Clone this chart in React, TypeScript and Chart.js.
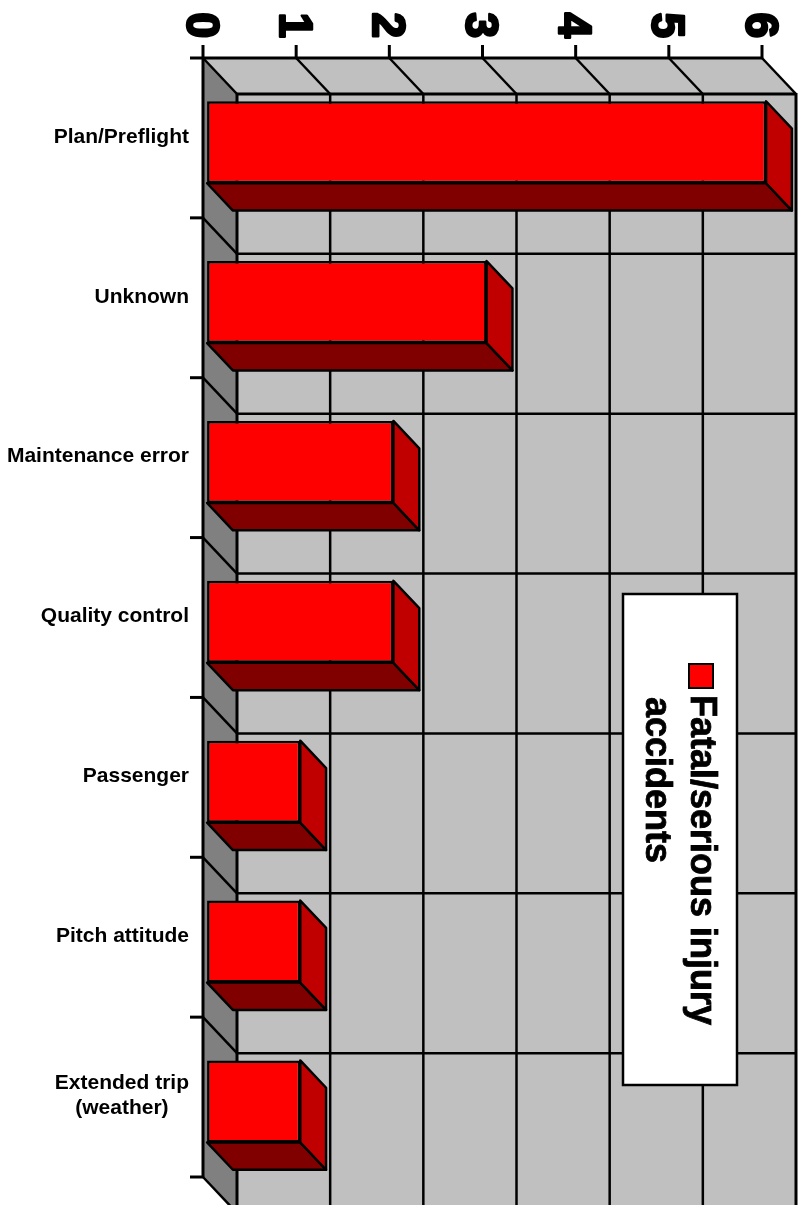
import React, { useEffect, useRef } from "react";
import { Chart, registerables } from "chart.js";

Chart.register(...registerables);

// ---- data ----
const categories: (string | string[])[] = [
  "Plan/Preflight",
  "Unknown",
  "Maintenance error",
  "Quality control",
  "Passenger",
  "Pitch attitude",
  ["Extended trip", "(weather)"],
];
const seriesName = "Fatal/serious injury accidents";
const seriesValues = [6, 3, 2, 2, 1, 1, 1];
const xTicks = [0, 1, 2, 3, 4, 5, 6];
const legendLines = ["Fatal/serious injury", "accidents"];

// ---- style ----
const DEPTH = { x: 34, y: 36 };
const BAR_FRONT = 0.12;
const BAR_BACK = 0.88;
const FONT = '"Liberation Sans", Arial, sans-serif';
const WALL = "#c0c0c0";
const SIDE_WALL = "#808080";

function line(ctx: CanvasRenderingContext2D, x1: number, y1: number, x2: number, y2: number, w: number) {
  ctx.lineWidth = w;
  ctx.beginPath();
  ctx.moveTo(x1, y1);
  ctx.lineTo(x2, y2);
  ctx.stroke();
}

function poly(ctx: CanvasRenderingContext2D, pts: number[][], fill: string, stroke?: number) {
  ctx.beginPath();
  ctx.moveTo(pts[0][0], pts[0][1]);
  for (let i = 1; i < pts.length; i++) ctx.lineTo(pts[i][0], pts[i][1]);
  ctx.closePath();
  ctx.fillStyle = fill;
  ctx.fill();
  if (stroke) {
    ctx.lineWidth = stroke;
    ctx.strokeStyle = "#000";
    ctx.stroke();
  }
}

const box3d = {
  id: "box3d",
  beforeDatasetsDraw(chart: any) {
    const { ctx, chartArea: a, scales } = chart;
    const xs = scales.x;
    const ys = scales.y;
    const n = categories.length;
    const band = (a.bottom - a.top) / n;
    const dx = DEPTH.x, dy = DEPTH.y;
    const H = chart.height;
    const x0 = xs.getPixelForValue(xTicks[0]);
    const x6 = xs.getPixelForValue(xTicks[xTicks.length - 1]);
    const bLeft = x0 + dx, bTop = a.top + dy, bRight = x6 + dx;

    ctx.save();
    ctx.lineCap = "butt";
    ctx.lineJoin = "miter";
    ctx.strokeStyle = "#000";

    // back wall
    ctx.fillStyle = WALL;
    ctx.fillRect(bLeft, bTop, bRight - bLeft, H - bTop + 60);
    for (let k = 1; k < xTicks.length - 1; k++) {
      const px = xs.getPixelForValue(xTicks[k]) + dx;
      line(ctx, px, bTop, px, H + 60, 2.5);
    }
    for (let i = 1; i <= n; i++) {
      const yb = a.top + i * band + dy;
      line(ctx, bLeft, yb, bRight, yb, 2.5);
    }

    // left wall
    poly(ctx, [[x0, a.top], [bLeft, bTop], [bLeft, a.bottom + dy], [x0, a.bottom]], SIDE_WALL);
    for (let i = 1; i <= n; i++) {
      const yb = a.top + i * band;
      line(ctx, x0, yb, x0 + dx, yb + dy, 2.5);
    }

    // top face
    poly(ctx, [[x0, a.top], [x6, a.top], [bRight, bTop], [bLeft, bTop]], WALL);
    for (let k = 0; k < xTicks.length; k++) {
      const px = xs.getPixelForValue(xTicks[k]);
      line(ctx, px, a.top, px + dx, bTop, 2.5);
    }

    // edges
    line(ctx, x0 - 13, a.top, x6, a.top, 3);
    line(ctx, bLeft, bTop, bRight, bTop, 3);
    line(ctx, x0, a.top - 13, x0, a.bottom, 3);
    line(ctx, bLeft, bTop, bLeft, H + 60, 3);
    line(ctx, bRight, bTop - 1, bRight, H + 60, 3);

    // ticks
    for (let k = 1; k < xTicks.length; k++) {
      const px = xs.getPixelForValue(xTicks[k]);
      line(ctx, px, a.top - 13, px, a.top, 3);
    }
    for (let i = 1; i <= n; i++) {
      const yb = a.top + i * band;
      line(ctx, x0 - 13, yb, x0, yb, 3);
    }

    // x tick labels (rotated clockwise)
    ctx.fillStyle = "#000";
    ctx.font = `bold 46px ${FONT}`;
    ctx.lineWidth = 2.5;
    ctx.lineJoin = "round";
    const capH = 33;
    for (const t of xTicks) {
      const px = xs.getPixelForValue(t);
      ctx.save();
      ctx.translate(px, a.top - 20);
      ctx.rotate(Math.PI / 2);
      ctx.textAlign = "right";
      ctx.textBaseline = "alphabetic";
      ctx.fillText(String(t), 0, capH / 2);
      ctx.strokeText(String(t), 0, capH / 2);
      ctx.restore();
    }

    // category labels
    ctx.font = `bold 21px ${FONT}`;
    ctx.textBaseline = "middle";
    ctx.textAlign = "center";
    const rightEdge = x0 - 14;
    categories.forEach((lab, i) => {
      const lines = Array.isArray(lab) ? lab : [lab];
      const cy = ys.getPixelForValue(i);
      const maxW = Math.max(...lines.map((l) => ctx.measureText(l).width));
      const cx = rightEdge - maxW / 2;
      const lh = 25;
      lines.forEach((l, j) => {
        ctx.fillText(l, cx, cy - 1 + (j - (lines.length - 1) / 2) * lh);
      });
    });
    ctx.restore();

    // shift into the bar-front plane for the bars
    ctx.save();
    ctx.translate(BAR_FRONT * dx, BAR_FRONT * dy);
  },
  afterDatasetsDraw(chart: any) {
    const { ctx } = chart;
    const ex = (BAR_BACK - BAR_FRONT) * DEPTH.x;
    const ey = (BAR_BACK - BAR_FRONT) * DEPTH.y;
    ctx.lineJoin = "round";
    const meta = chart.getDatasetMeta(0);
    meta.data.forEach((el: any) => {
      const left = Math.min(el.base, el.x);
      const right = Math.max(el.base, el.x);
      const top = el.y - el.height / 2;
      const bottom = el.y + el.height / 2;
      poly(ctx, [[left, bottom], [right, bottom], [right + ex, bottom + ey], [left + ex, bottom + ey]], "#800000", 2.5);
      poly(ctx, [[right, top], [right + ex, top + ey], [right + ex, bottom + ey], [right, bottom]], "#c00000", 2.5);
    });
    ctx.restore();

    // legend
    ctx.save();
    ctx.fillStyle = "#fff";
    ctx.fillRect(623, 594, 114, 491);
    ctx.strokeStyle = "#000";
    ctx.lineWidth = 2.5;
    ctx.strokeRect(623, 594, 114, 491);
    ctx.translate(720, 664);
    ctx.rotate(Math.PI / 2);
    ctx.fillStyle = "#ff0000";
    ctx.fillRect(0, 7, 24, 24);
    ctx.lineWidth = 2;
    ctx.strokeRect(0, 7, 24, 24);
    ctx.fillStyle = "#000";
    ctx.font = `bold 36px ${FONT}`;
    ctx.textAlign = "left";
    ctx.textBaseline = "alphabetic";
    ctx.lineWidth = 0.8;
    ctx.fillText(legendLines[0], 31, 29);
    ctx.strokeText(legendLines[0], 31, 29);
    ctx.fillText(legendLines[1], 33, 74);
    ctx.strokeText(legendLines[1], 33, 74);
    ctx.restore();
  },
};

export default function App() {
  const ref = useRef<HTMLCanvasElement>(null);
  useEffect(() => {
    const canvas = ref.current!;
    const chart = new Chart(canvas, {
      type: "bar",
      data: {
        labels: categories as any,
        datasets: [
          {
            label: seriesName,
            data: seriesValues,
            backgroundColor: "#ff0000",
            borderColor: "#000",
            borderWidth: 2.5,
            borderSkipped: false,
            categoryPercentage: 1,
            barPercentage: 0.513,
            clip: false as any,
          },
        ],
      },
      options: {
        indexAxis: "y",
        responsive: false,
        animation: false,
        devicePixelRatio: 1,
        layout: { padding: { left: 203, top: 58, right: 45, bottom: 28 } },
        scales: {
          x: { min: 0, max: 6, display: false, position: "top" },
          y: { display: false },
        },
        plugins: { legend: { display: false }, tooltip: { enabled: false } },
      },
      plugins: [box3d as any],
    });
    return () => chart.destroy();
  }, []);
  return (
    <div style={{ position: "absolute", left: 0, top: 0, width: 807, height: 1205, background: "#fff" }}>
      <canvas ref={ref} width={807} height={1205} style={{ display: "block" }} />
    </div>
  );
}
